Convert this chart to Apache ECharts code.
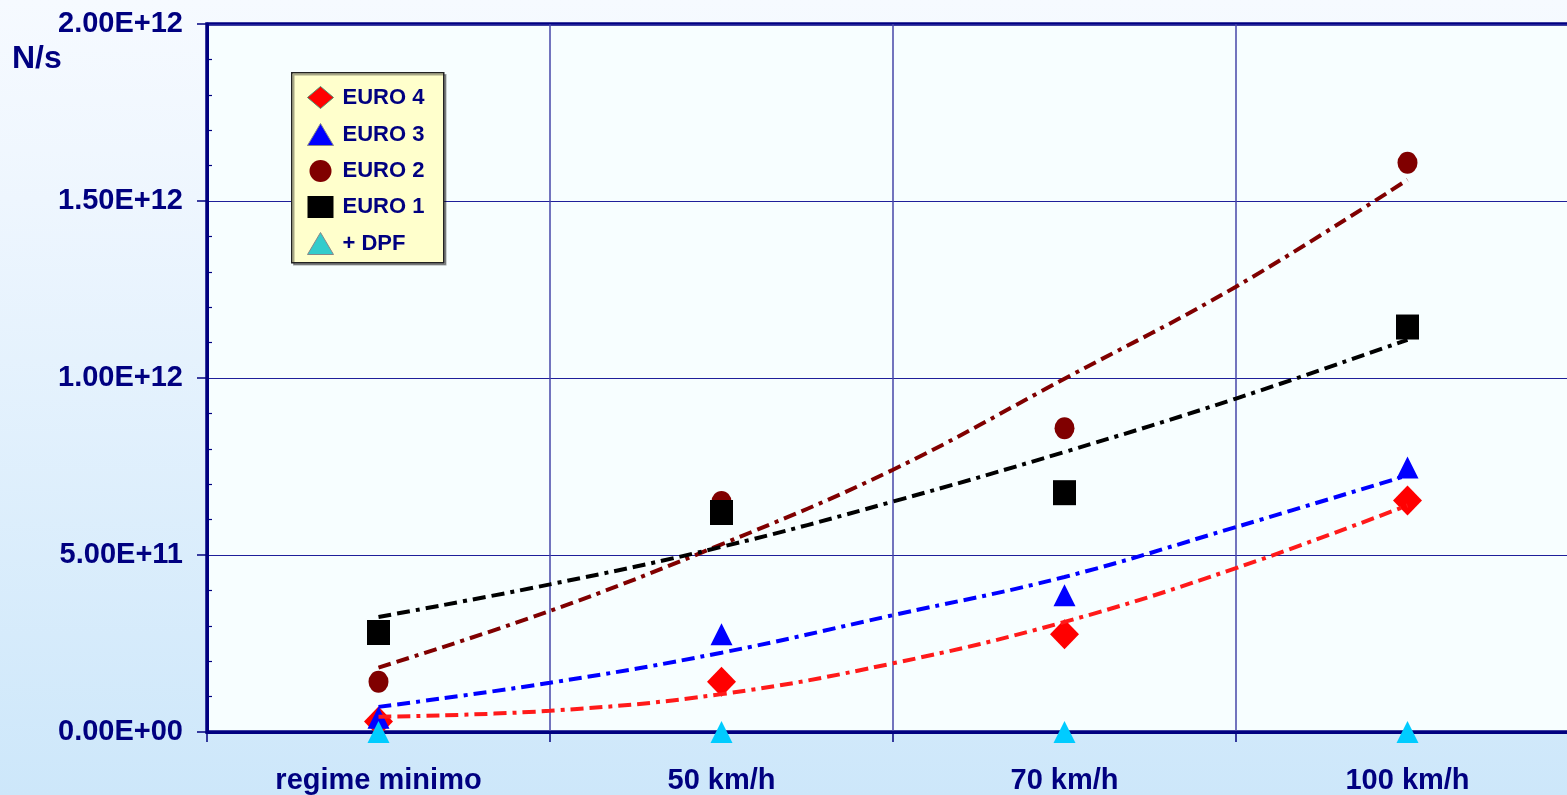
<!DOCTYPE html>
<html>
<head>
<meta charset="utf-8">
<script src="https://cdn.jsdelivr.net/npm/echarts@6/dist/echarts.min.js"></script>
<style>
html,body{margin:0;padding:0;overflow:hidden;width:1567px;height:795px;}
#c{width:1580px;height:795px;}
</style>
</head>
<body>
<div id="c"></div>
<script>
// ---- data (values in units of 1e12 N/s) ----
var SCALE = 1e12;
var categories = ['regime minimo', '50 km/h', '70 km/h', '100 km/h'];
var euro4 = [0.030, 0.142, 0.276, 0.654];
var euro3 = [0.040, 0.276, 0.386, 0.747];
var euro2 = [0.142, 0.650, 0.858, 1.608];
var euro1 = [0.281, 0.620, 0.676, 1.144];
var dpf   = [0, 0, 0, 0];
// trend lines read at category positions (1 = first category centre, 1.5 = boundary ...)
var trendX  = [1, 1.5, 2, 2.5, 3, 3.5, 4];
var trend4  = [0.043, 0.060, 0.107, 0.194, 0.311, 0.463, 0.640];
var trend3  = [0.071, 0.139, 0.224, 0.330, 0.438, 0.579, 0.725];
var trend2  = [0.182, 0.342, 0.530, 0.741, 0.998, 1.258, 1.560];
var trend1  = [0.325, 0.417, 0.523, 0.651, 0.791, 0.942, 1.108];
var yTicks = {min: 0, max: 2e12, interval: 5e11};

var FONT = '"Liberation Sans", Arial, sans-serif';
var NAVY = '#000080';

function sc(arr){ return arr.map(function(v){ return v * SCALE; }); }
function trend(arr){ return trendX.map(function(x, i){ return [x, arr[i] * SCALE]; }); }
function fmtE(v){
  if (v === 0) return '0.00E+00';
  var e = Math.floor(Math.log10(v) + 1e-9);
  var m = v / Math.pow(10, e);
  return m.toFixed(2) + 'E' + (e >= 0 ? '+' : '-') + (Math.abs(e) < 10 ? '0' : '') + Math.abs(e);
}
var dash = [13, 6, 13, 6, 4, 6];

var chart = echarts.init(document.getElementById('c'));
chart.setOption({
  backgroundColor: {
    type: 'linear', x: 0, y: 0, x2: 0, y2: 1,
    colorStops: [{offset: 0, color: '#f6faff'}, {offset: 0.25, color: '#eef6fe'}, {offset: 1, color: '#cde7fa'}]
  },
  animation: false,
  grid: {
    left: 207, top: 24, right: 1, bottom: 63,
    show: true, backgroundColor: '#f7feff', borderColor: NAVY, borderWidth: 3.5
  },
  graphic: [
    {type: 'rect', left: 291, top: 72, z: 1,
     shape: {width: 152, height: 190},
     style: {fill: '#ffffcc', stroke: '#222', lineWidth: 1.5,
             shadowColor: 'rgba(0,0,0,0.35)', shadowOffsetX: 2, shadowOffsetY: 2}},
    {type: 'text', left: 12, top: 43, z: 5,
     style: {text: 'N/s', font: 'bold 32px ' + FONT, fill: NAVY}}
  ],
  legend: {
    orient: 'vertical', left: 302, top: 81, z: 6,
    itemWidth: 26, itemHeight: 22, itemGap: 14,
    selectedMode: false,
    textStyle: {fontSize: 22, fontWeight: 'bold', color: NAVY, fontFamily: FONT, padding: [0, 0, 0, 4]},
    data: [
      {name: 'EURO 4', icon: 'diamond', itemStyle: {color: '#ff0000', borderColor: '#4f8f6f', borderWidth: 1}},
      {name: 'EURO 3', icon: 'triangle', itemStyle: {color: '#0000ff', borderColor: '#888', borderWidth: 1}},
      {name: 'EURO 2', icon: 'circle', itemStyle: {color: '#800000'}},
      {name: 'EURO 1', icon: 'rect', itemStyle: {color: '#000000'}},
      {name: '+ DPF', icon: 'triangle', itemStyle: {color: '#33cccc', borderColor: '#888', borderWidth: 1}}
    ]
  },
  xAxis: [
    {
      type: 'category', data: categories, boundaryGap: true,
      axisLine: {show: true, lineStyle: {color: NAVY, width: 3}},
      axisTick: {show: true, length: 10, lineStyle: {color: NAVY, width: 1.5}},
      axisLabel: {fontSize: 29, fontWeight: 'bold', color: NAVY, fontFamily: FONT, margin: 34},
      splitLine: {show: true, lineStyle: {color: '#4646a8', width: 1.5}}
    },
    {
      type: 'value', min: 0.5, max: 4.5, show: false
    }
  ],
  yAxis: [
    {
      type: 'value', min: yTicks.min, max: yTicks.max, interval: yTicks.interval,
      axisLine: {show: true, lineStyle: {color: NAVY, width: 3}},
      axisTick: {show: true, length: 10, lineStyle: {color: NAVY, width: 1.5}},
      axisLabel: {fontSize: 29, fontWeight: 'bold', color: NAVY, fontFamily: FONT, margin: 24, formatter: fmtE},
      splitLine: {show: true, lineStyle: {color: '#1f1f9a', width: 1.2}}
    },
    {
      type: 'value', min: yTicks.min, max: yTicks.max, interval: yTicks.interval, position: 'left',
      axisLine: {show: false}, axisLabel: {show: false}, splitLine: {show: false},
      axisTick: {show: false, inside: true},
      minorTick: {show: true, splitNumber: 5, length: 5, lineStyle: {color: NAVY, width: 1.2}}
    }
  ],
  series: [
    {name: 'EURO 4', type: 'scatter', data: sc(euro4), symbol: 'diamond', symbolSize: [29, 30], z: 3,
     itemStyle: {color: '#ff0000', opacity: 1}},
    {name: 'EURO 3', type: 'scatter', data: sc(euro3), symbol: 'triangle', symbolSize: [22, 22], z: 3,
     itemStyle: {color: '#0000ff', opacity: 1}},
    {name: 'EURO 2', type: 'scatter', data: sc(euro2), symbol: 'circle', symbolSize: [20, 22], z: 3,
     itemStyle: {color: '#800000', opacity: 1}},
    {name: 'EURO 1', type: 'scatter', data: sc(euro1), symbol: 'rect', symbolSize: [23, 25], z: 3,
     itemStyle: {color: '#000000', opacity: 1}},
    {name: 'trend4', type: 'line', xAxisIndex: 1, data: trend(trend4), smooth: 0.4, showSymbol: false, z: 4,
     lineStyle: {color: '#ff1a1a', width: 4, type: dash}},
    {name: 'trend3', type: 'line', xAxisIndex: 1, data: trend(trend3), smooth: 0.4, showSymbol: false, z: 4,
     lineStyle: {color: '#0000ff', width: 4, type: dash}},
    {name: 'trend2', type: 'line', xAxisIndex: 1, data: trend(trend2), smooth: 0.4, showSymbol: false, z: 4,
     lineStyle: {color: '#800000', width: 4, type: dash}},
    {name: 'trend1', type: 'line', xAxisIndex: 1, data: trend(trend1), smooth: 0.4, showSymbol: false, z: 4,
     lineStyle: {color: '#000000', width: 4, type: dash}},
    {name: '+ DPF', type: 'scatter', data: sc(dpf), symbol: 'triangle', symbolSize: [22, 22], z: 5,
     itemStyle: {color: '#00ccff', opacity: 1}}
  ]
});
</script>
</body>
</html>
